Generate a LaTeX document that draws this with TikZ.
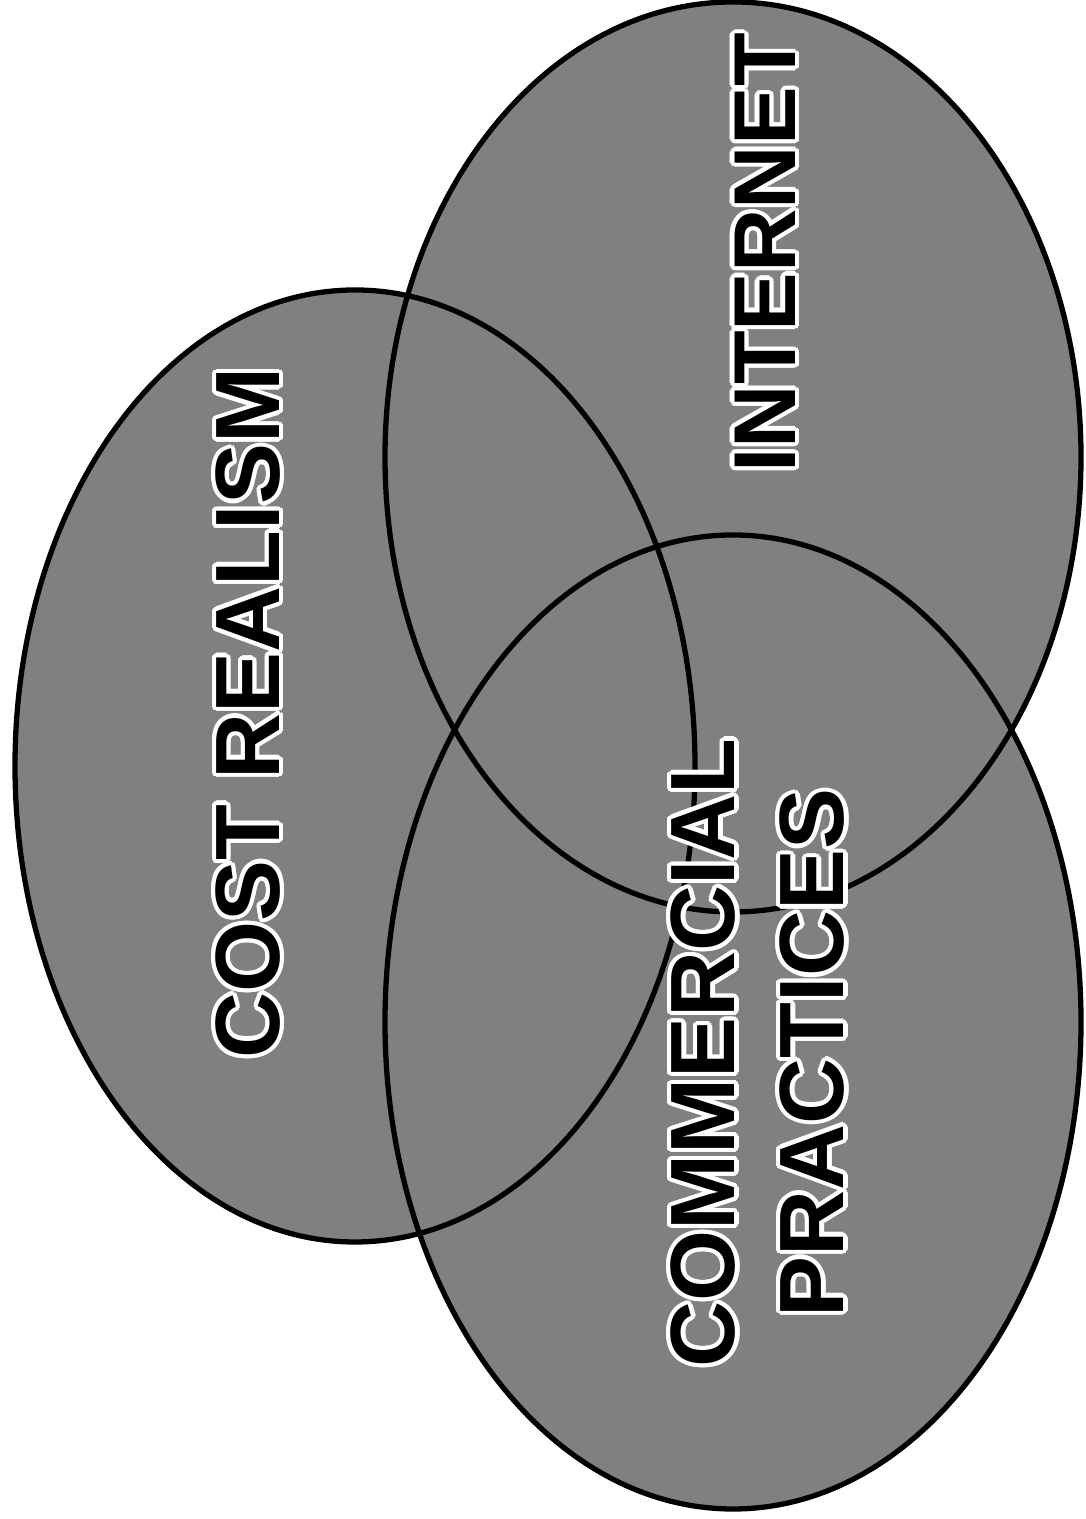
\documentclass[tikz,border=0pt]{standalone}
\usepackage{fontspec}
\setmainfont{Liberation Sans}
\usepackage[copies]{contour}
\contourlength{1.2pt}
\usepackage{tikz}

\begin{document}
\begin{tikzpicture}[font=\bfseries\fontsize{26}{31}\selectfont,
  venn/.style={fill=black!50},
  rim/.style={draw=black, line width=1.5pt},
  lbl/.style={rotate=90, align=center, text=black, inner sep=0pt}]
  \useasboundingbox (0,0) rectangle (10.85,15.19);
  \fill[venn] (3.55,7.53) ellipse (3.40 and 4.76);
  \fill[venn] (7.33,10.62) ellipse (3.48 and 4.55);
  \fill[venn] (7.33,4.97) ellipse (3.48 and 4.87);
  \draw[rim] (3.55,7.53) ellipse (3.40 and 4.76);
  \draw[rim] (7.33,10.62) ellipse (3.48 and 4.55);
  \draw[rim] (7.33,4.97) ellipse (3.48 and 4.87);
  \node[lbl] (cost) at (2.50,8.06) {\contour{white}{COST REALISM}};
  \node[lbl] (net) at (7.67,12.66) {\fontsize{25}{30}\selectfont\contour{white}{INTERNET}};
  \node[lbl] (comm) at (7.60,4.66) {\contour{white}{COMMERCIAL}\\\contour{white}{PRACTICES}};
\end{tikzpicture}
\end{document}
